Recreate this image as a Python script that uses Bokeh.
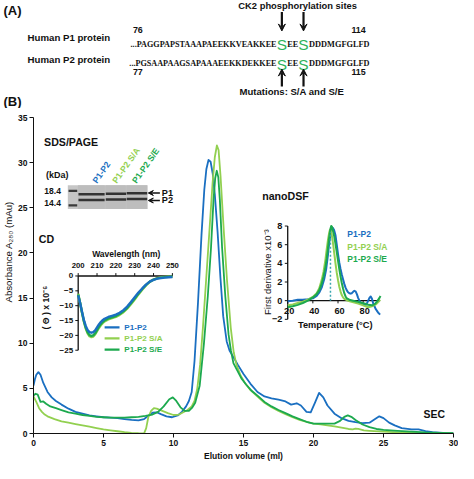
import math
from bokeh.plotting import figure
from bokeh.layouts import column, row
from bokeh.models import Range1d, Arrow, VeeHead, FixedTicker
from bokeh.core.properties import value
from bokeh.embed import file_html
from bokeh.resources import INLINE

# ---------------- SEC (main panel) ----------------
sec_blue_ml = [0.0, 0.1, 0.2, 0.35, 0.5, 0.7, 1.0, 1.3, 1.6, 2.0, 2.5, 3.0, 3.5, 4.0, 4.5, 5.0,
               5.5, 6.0, 6.5, 7.0, 7.5, 7.9, 8.2, 8.5, 8.8, 9.1, 9.5, 9.9, 10.3, 10.6, 10.9, 11.1,
               11.3, 11.5, 11.75, 12.0, 12.2, 12.35, 12.5, 12.65, 12.8, 12.95, 13.15, 13.35, 13.55,
               13.8, 14.0, 14.3, 14.6, 15.0, 15.5, 16.0, 16.5, 17.0, 17.5, 18.0, 18.4, 18.8, 19.1,
               19.5, 19.8, 20.1, 20.4, 20.7, 21.0, 21.5, 22.0, 22.5, 23.0, 23.5, 24.0, 24.4, 24.7,
               25.0, 25.4, 25.8, 26.3, 27.0, 27.5, 28.0, 28.5, 29.0, 29.5, 30.0]
sec_blue_mau = [5.3, 6.0, 6.5, 6.8, 6.5, 5.6, 4.6, 4.0, 3.6, 3.2, 2.75, 2.4, 2.2, 2.0, 1.9, 1.8,
                1.75, 1.7, 1.6, 1.5, 1.45, 1.6, 1.95, 2.3, 2.35, 2.15, 1.9, 1.8, 2.0, 2.4, 3.0, 3.6,
                4.6, 8.0, 14.5, 22.0, 27.0, 29.3, 30.3, 30.1, 28.8, 26.5, 22.3, 17.3, 13.0,
                10.2, 9.2, 8.4, 7.6, 6.6, 5.5, 4.6, 4.1, 3.9, 3.75, 3.55, 3.2, 3.35, 3.1,
                2.4, 2.35, 3.4, 4.5, 4.0, 3.1, 2.2, 1.7, 1.4, 1.25, 1.15, 1.2, 1.6, 1.9,
                1.7, 1.2, 0.9, 0.6, 0.45, 0.45, 0.25, 0.15, 0.1, 0.05, 0.05]

sec_sa_ml = [0.0, 0.2, 0.4, 0.6, 0.8, 1.0, 1.5, 2.0, 2.5, 3.0, 3.5, 4.0, 4.5, 5.0, 5.5, 6.0, 6.5,
             7.0, 7.5, 7.9, 8.05, 8.2, 8.4, 8.6, 8.8, 9.2, 9.6, 10.0, 10.4, 10.7, 11.0, 11.3, 11.5,
             11.7, 11.9, 12.1, 12.33, 12.56, 12.79, 12.95, 13.1, 13.22, 13.36, 13.59, 13.82, 14.09,
             14.3, 14.5, 14.8, 15.1, 15.5, 16.0, 16.5, 17.0, 17.5, 18.0, 18.5, 19.0, 19.5, 20.0,
             20.5, 21.0, 21.5, 22.0, 22.5, 22.8, 23.0, 23.2, 23.6, 24.0, 25.0, 26.0, 27.0, 28.0, 30.0]
sec_sa_mau = [4.1, 3.5, 2.8, 2.4, 2.1, 1.9, 1.6, 1.35, 1.2, 1.05, 0.9, 0.75, 0.6, 0.45, 0.35, 0.25, 0.15,
              0.08, 0.03, 0.02, 0.6, 1.8, 2.5, 2.8, 2.75, 2.5, 2.25, 2.05, 2.1, 2.35, 2.6, 3.0, 3.6,
              5.0, 7.6, 11.7, 17.0, 22.3, 27.7, 30.6, 31.9, 31.4, 28.5, 22.5, 17.0, 11.7,
              9.0, 7.6, 6.4, 5.6, 4.8, 4.1, 3.4, 2.9, 2.5, 2.15, 1.8, 1.5, 1.3, 1.1,
              1.0, 0.9, 0.8, 0.65, 0.5, 0.45, 0.55, 0.5, 0.35, 0.3, 0.2, 0.12, 0.08, 0.05, 0.02]

sec_se_ml = [0.0, 0.15, 0.3, 0.5, 0.7, 0.9, 1.2, 1.6, 2.0, 2.5, 3.0, 3.5, 4.0, 4.5, 5.0, 5.5, 6.0,
             6.5, 7.0, 7.5, 8.0, 8.5, 8.9, 9.3, 9.7, 9.95, 10.2, 10.5, 10.8, 11.1, 11.35, 11.55,
             11.87, 12.17, 12.45, 12.68, 12.86, 12.98, 13.09, 13.2, 13.31, 13.47, 13.7, 13.93,
             14.1, 14.28, 14.55, 14.85, 15.2, 15.6, 16.0, 16.5, 17.0, 17.5, 18.0, 18.5, 19.0,
             19.5, 20.0, 20.5, 21.0, 21.5, 21.9, 22.2, 22.45, 22.7, 23.0, 23.5, 24.0, 24.5, 25.0,
             26.0, 27.0, 28.0, 29.0, 30.0]
sec_se_mau = [4.2, 4.4, 4.3, 3.5, 3.55, 3.3, 3.0, 2.8, 2.6, 2.35, 2.2, 2.05, 1.95, 1.85, 1.8, 1.75, 1.75,
              1.75, 1.8, 1.85, 1.95, 2.1, 2.4, 3.0, 3.8, 4.0, 3.6, 2.9, 2.5, 2.5, 2.9, 3.4,
              5.3, 9.9, 15.2, 20.6, 25.9, 28.3, 29.1, 28.4, 25.9, 20.6, 15.2, 11.0,
              9.2, 7.8, 7.0, 6.1, 5.4, 4.7, 4.2, 3.5, 3.0, 2.6, 2.25, 1.9, 1.6,
              1.3, 1.1, 1.1, 1.1, 1.1, 1.4, 1.85, 2.0, 1.85, 1.5, 1.0, 0.7, 0.5, 0.4,
              0.3, 0.2, 0.12, 0.08, 0.05]

# ---------------- CD inset ----------------
cd_nm = [200, 201, 202, 203, 204, 205, 206, 207, 208, 209, 210, 211, 212, 213, 214, 216, 218,
         220, 222, 224, 226, 228, 230, 232, 234, 236, 238, 240, 242, 244, 246, 248, 250]
cd_blue = [-6.5, -9.0, -12.0, -14.8, -16.8, -18.2, -18.9, -19.1, -18.9, -18.3, -17.3, -16.3, -15.5,
           -14.9, -14.4, -13.8, -13.4, -13.0, -12.4, -11.5, -10.3, -8.8, -7.2, -5.6, -4.2, -2.9,
           -1.9, -1.3, -0.9, -0.7, -0.55, -0.45, -0.35]
cd_sa = [-6.0, -9.0, -12.3, -15.3, -17.7, -19.3, -20.3, -20.6, -20.4, -19.7, -18.6, -17.5, -16.6,
         -15.9, -15.3, -14.6, -14.2, -13.8, -13.1, -12.2, -11.0, -9.5, -7.9, -6.2, -4.6, -3.2,
         -2.0, -1.2, -0.7, -0.45, -0.3, -0.25, -0.2]
cd_se = [-6.2, -9.0, -12.2, -15.1, -17.4, -19.0, -19.9, -20.2, -20.0, -19.3, -18.2, -17.1, -16.2,
         -15.5, -15.0, -14.3, -13.9, -13.5, -12.8, -11.9, -10.7, -9.2, -7.6, -5.9, -4.4, -3.0,
         -1.9, -1.2, -0.8, -0.55, -0.4, -0.3, -0.25]

# ---------------- nanoDSF inset ----------------
dsf_blue_t = [20, 24, 28, 32, 36, 40, 43, 45, 47, 49, 50.5, 52, 53, 54, 55, 55.8, 56.8, 58, 59, 60,
              61, 62, 63, 64, 65, 66, 67, 68, 69, 70, 71, 72, 73, 74, 75, 76, 77, 78, 79, 80,
              81, 82, 83, 84, 85, 86, 87, 88, 89, 90, 91, 92, 93.5]
dsf_blue_v = [-0.05, 0.0, 0.1, 0.1, 0.15, 0.25, 0.5, 0.85, 1.4, 2.3, 3.3, 4.9, 6.2, 7.1, 7.65, 7.8, 7.6, 7.0, 6.0, 5.0,
              4.1, 3.4, 2.8, 2.3, 1.8, 1.4, 1.1, 0.9, 0.8, 0.75, 0.8, 0.95, 1.05, 1.0, 0.7, 0.3, 0.0, -0.2, -0.35, -0.4,
              -0.5, -0.45, -0.3, 0.0, 0.3, 0.45, 0.2, -0.3, -0.6, -0.9, -1.1, -1.3, -1.5]
dsf_sa_t = [20, 24, 28, 32, 36, 40, 43, 45, 47, 48.5, 50, 51, 52, 53, 53.6, 54.3, 55, 56, 57, 58,
            59, 60, 61, 62, 63, 64, 65, 67, 70, 73, 76, 80, 84, 87, 90, 92, 93.5]
dsf_sa_v = [-0.5, -0.4, -0.25, -0.1, 0.1, 0.4, 0.8, 1.3, 2.2, 3.1, 4.4, 5.5, 6.5, 7.3, 7.6, 7.5, 7.1, 6.2, 5.1, 4.0,
            3.0, 2.2, 1.5, 1.0, 0.6, 0.35, 0.2, 0.05, -0.1, -0.2, -0.3, -0.5, -0.7, -0.6, -0.4, -0.15, 0.1]
dsf_se_t = [20, 24, 28, 32, 36, 40, 43, 45, 47, 48.5, 50, 51, 52, 53, 54, 54.6, 55.3, 56, 57, 58,
            59, 60, 61, 62, 63, 64, 65, 66, 67, 69, 72, 75, 78, 81, 84, 87, 89, 91, 93, 93.8]
dsf_se_v = [-0.7, -0.6, -0.45, -0.25, 0.0, 0.35, 0.7, 1.1, 1.8, 2.6, 3.6, 4.5, 5.6, 6.8, 7.7, 8.0, 7.9, 7.5, 6.9, 6.1,
            5.2, 4.3, 3.4, 2.6, 1.9, 1.3, 0.8, 0.45, 0.25, 0.1, 0.0, -0.1, -0.2, -0.3, -0.45, -0.5, -0.4, -0.1, 0.3, 0.5]
dsf_tm = 54.0
dsf_tm_top = 7.4

# ---------------- ticks / labels ----------------
series_names = ["P1-P2", "P1-P2 S/A", "P1-P2 S/E"]
sec_xticks = [0, 5, 10, 15, 20, 25, 30]
sec_yticks = [0, 5, 10, 15, 20, 25, 30, 35]
cd_xticks = [200, 210, 220, 230, 240, 250]
cd_yticks = [0, -5, -10, -15, -20, -25]
dsf_xticks = [20, 40, 60, 80]
dsf_yticks = [-2, 0, 2, 4, 6, 8]
gel_marker_labels = ["18.4", "14.4"]
gel_band_labels = ["P1", "P2"]
p1_parts = ["...PAGGPAPSTAAAPAEEKKVEAKKEE", "S", "EE", "S", "DDDMGFGLFD"]
p2_parts = ["...PGSAAPAAGSAPAAAEEKKDEKKEE", "S", "EE", "S", "DDDMGFGLFD"]

# ---------------- style ----------------
SANS = "Liberation Sans"
SERIF = "Liberation Serif"
INK = "#111111"
BLUE = "#1A6FC1"
LGREEN = "#92D050"
GREEN = "#1CA94E"
SGREEN = "#2EB35C"
COLORS = [BLUE, LGREEN, GREEN]
K = 458 / 474           # reference px -> page px
A_H = 108
B_H = 463 - A_H
Y_W = 15


def fs(n):
    return value(f"{n * K:.2f}px")


def add_text(p, x, y, s, size, color=INK, style="bold", align="left", baseline="middle",
             angle=0.0, font=SANS, xr=None, yr=None):
    kw = {}
    if xr:
        kw["x_range_name"] = xr
    if yr:
        kw["y_range_name"] = yr
    p.text(x=[x], y=[y], text=[s], text_font=value(font), text_font_style=style,
           text_font_size=fs(size), text_color=color, text_align=align,
           text_baseline=baseline, angle=angle, **kw)


def arrow(p, x0, y0, x1, y1, size=7, width=2.0, xr="default", yr="default"):
    p.add_layout(Arrow(end=VeeHead(size=size, line_color=INK, fill_color=INK, line_width=1),
                       x_start=x0, y_start=y0, x_end=x1, y_end=y1,
                       line_color=INK, line_width=width,
                       x_range_name=xr, y_range_name=yr))


def blank(width, height, xr, yr):
    p = figure(width=width, height=height, x_range=xr, y_range=yr,
               x_axis_location=None, y_axis_location=None, output_backend="svg",
               toolbar_location=None, min_border=0)
    p.grid.visible = False
    p.outline_line_color = None
    return p


# ================= Panel A =================
pA = blank(458, A_H, Range1d(0, 474), Range1d(A_H / K, 0))

add_text(pA, 3, 10, "(A)", 13.5)
add_text(pA, 307.5, 5.5, "CK2 phosphorylation sites", 9.7, align="center")
site_x = [291.2, 313.6]
for sx in site_x:
    arrow(pA, sx, 12, sx, 31.5, size=7, width=2.2)
    arrow(pA, sx, 89, sx, 71, size=7, width=2.2)
add_text(pA, 137, 30.5, "76", 9.2)
add_text(pA, 378, 30.5, "114", 9.2, align="right")
add_text(pA, 137, 74, "77", 9.2)
add_text(pA, 378, 74, "115", 9.2, align="right")
add_text(pA, 28, 38.5, "Human P1 protein", 10)
add_text(pA, 28, 61.5, "Human P2 protein", 10)


def sequence(parts, base):
    pre, s1, mid, s2, post = parts
    add_text(pA, site_x[0] - 5.5, base, pre, 8.45, font=SERIF, align="right", baseline="alphabetic")
    add_text(pA, site_x[0], base + 0.5, s1, 16, color=SGREEN, style="normal", align="center", baseline="alphabetic")
    add_text(pA, (site_x[0] + site_x[1]) / 2, base, mid, 8.6, font=SERIF, align="center", baseline="alphabetic")
    add_text(pA, site_x[1], base + 0.5, s2, 16, color=SGREEN, style="normal", align="center", baseline="alphabetic")
    add_text(pA, site_x[1] + 5.8, base, post, 8.6, font=SERIF, align="left", baseline="alphabetic")


sequence(p1_parts, 45.3)
sequence(p2_parts, 65.5)
add_text(pA, 301.5, 94.5, "Mutations: S/A and S/E", 9.9, align="center")
add_text(pA, 3, 104.5, "(B)", 13.5)

# ================= y-axis title strip =================
pY = blank(Y_W, B_H, Range1d(0, Y_W / K), Range1d((A_H + B_H) / K, A_H / K))
add_text(pY, 8.6, 268, "Absorbance A₂₈₀ (mAu)", 10, style="normal", align="center",
         angle=math.pi / 2)

# ================= Panel B =================
FL, FR, FT, FB = 32, 469, 121, 450   # frame edges in reference px


def lin_range(d0, p0, d1, p1, lo, hi):
    s = (d1 - d0) / (p1 - p0)
    return Range1d(start=d0 + (lo - p0) * s, end=d0 + (hi - p0) * s)


pB = figure(width=458 - Y_W, height=B_H, x_range=Range1d(0, 30), y_range=Range1d(0, 35),
            output_backend="svg", toolbar_location=None,
            min_border_left=round(FL * K) - Y_W, min_border_right=458 - round(FR * K),
            min_border_top=round(FT * K - A_H), min_border_bottom=B_H - round(FB * K - A_H))
pB.grid.visible = False
pB.outline_line_color = None
pB.extra_x_ranges = {"px": Range1d(FL, FR),
                     "cd": lin_range(200, 78.5, 250, 176.5, FL, FR),
                     "dsf": lin_range(20, 296.5, 80, 375.0, FL, FR)}
pB.extra_y_ranges = {"px": Range1d(FB, FT),
                     "cd": lin_range(0, 286.0, -25, 363.3, FB, FT),
                     "dsf": lin_range(0, 311.7, 8, 234.0, FB, FT)}

for ax in (pB.xaxis[0], pB.yaxis[0]):
    ax.axis_line_color = INK
    ax.major_tick_line_color = INK
    ax.major_tick_out = 4
    ax.major_tick_in = 0
    ax.minor_tick_line_color = None
    ax.major_label_text_font = SANS
    ax.major_label_text_font_style = "bold"
    ax.major_label_text_font_size = f"{8.8 * K:.2f}px"
    ax.major_label_text_color = INK
    ax.major_label_standoff = 2
    ax.axis_label_text_font = SANS
    ax.axis_label_text_color = INK
    ax.axis_label_standoff = 2
pB.xaxis.ticker = FixedTicker(ticks=sec_xticks)
pB.yaxis.ticker = FixedTicker(ticks=sec_yticks)
pB.xaxis.axis_label = "Elution volume (ml)"
pB.xaxis.axis_label_text_font_style = "bold"
pB.xaxis.axis_label_text_font_size = f"{8.8 * K:.2f}px"

# SEC curves
for xs, ys, c in ((sec_blue_ml, sec_blue_mau, BLUE), (sec_sa_ml, sec_sa_mau, LGREEN), (sec_se_ml, sec_se_mau, GREEN)):
    pB.line(xs, ys, line_color=c, line_width=1.8, line_join="round")
add_text(pB, 449, 430, "SEC", 10.8, align="center", xr="px", yr="px")

# ---- SDS/PAGE gel ----
add_text(pB, 43, 146.7, "SDS/PAGE", 11, xr="px", yr="px")
add_text(pB, 45, 181, "(kDa)", 9.3, xr="px", yr="px")
add_text(pB, 60.5, 197.3, gel_marker_labels[0], 8.8, align="right", xr="px", yr="px")
add_text(pB, 60.5, 210.5, gel_marker_labels[1], 8.8, align="right", xr="px", yr="px")
pB.quad(left=[67.7], right=[150.5], top=[191.5], bottom=[216.2], fill_color="#c6c6c6",
        line_color=None, x_range_name="px", y_range_name="px")
pB.quad(left=[78.2, 106.8, 128.6], right=[106.2, 128.0, 150.5], top=[191.5] * 3, bottom=[216.2] * 3,
        fill_color="#bdbdbd", line_color=None, x_range_name="px", y_range_name="px")
# ladder bands
pB.quad(left=[68.5, 68.5], right=[77.5, 77.5], top=[196.2, 211.2], bottom=[198.6, 213.6],
        fill_color="#3a3a3a", line_color=None, x_range_name="px", y_range_name="px")
# sample bands (P1 upper, P2 lower) for three lanes
lane_l = [78.8, 107.2, 129.0]
lane_r = [106.0, 128.4, 150.3]
p1_mid = [201.0, 200.5, 199.9]
p2_mid = [206.9, 206.5, 205.9]
pB.quad(left=lane_l + lane_l, right=lane_r + lane_r,
        top=[m - 1.3 for m in p1_mid] + [m - 1.3 for m in p2_mid],
        bottom=[m + 1.3 for m in p1_mid] + [m + 1.3 for m in p2_mid],
        fill_color="#333333", line_color=None, x_range_name="px", y_range_name="px")
lane_label_x = [95.5, 116.0, 136.5]
for lx, name, c in zip(lane_label_x, series_names, COLORS):
    add_text(pB, lx, 188.5, name, 9.0, color=c, angle=math.radians(55), baseline="alphabetic",
             xr="px", yr="px")
for yy, lab in zip([199.6, 207.4], gel_band_labels):
    arrow(pB, 163.5, yy, 151.5, yy, size=5, width=1.4, xr="px", yr="px")
    add_text(pB, 165.5, yy, lab, 9.5, xr="px", yr="px")

# ---- CD inset ----
add_text(pB, 37.5, 248, "CD", 11, xr="px", yr="px")
add_text(pB, 128.5, 262.7, "Wavelength (nm)", 8.8, align="center", xr="px", yr="px")
pB.segment(x0=[cd_xticks[0]], y0=[0], x1=[cd_xticks[-1]], y1=[0], line_color=INK, line_width=1.3,
           x_range_name="cd", y_range_name="cd")
pB.segment(x0=[cd_xticks[0]], y0=[cd_yticks[0]], x1=[cd_xticks[0]], y1=[cd_yticks[-1]], line_color=INK,
           line_width=1.3, x_range_name="cd", y_range_name="cd")
pB.segment(x0=cd_xticks, y0=[286.0] * len(cd_xticks), x1=cd_xticks, y1=[283.0] * len(cd_xticks),
           line_color=INK, line_width=1, x_range_name="cd", y_range_name="px")
pB.segment(x0=[78.5] * len(cd_yticks), y0=cd_yticks, x1=[75.5] * len(cd_yticks), y1=cd_yticks,
           line_color=INK, line_width=1, x_range_name="px", y_range_name="cd")
for t in cd_xticks:
    add_text(pB, t, 275.3, str(t), 8.0, align="center", xr="cd", yr="px")
for t in cd_yticks:
    add_text(pB, 73.2, t, str(t).replace("-", "\u2212"), 8.3, align="right", xr="px", yr="cd")
add_text(pB, 44.5, 319, "( \u0398 ) x 10\u207b\u2076", 9.0, align="center", angle=math.pi / 2,
         xr="px", yr="px")
for ys, c in ((cd_sa, LGREEN), (cd_se, GREEN), (cd_blue, BLUE)):
    pB.line(cd_nm, ys, line_color=c, line_width=2.4, line_join="round", x_range_name="cd", y_range_name="cd")
for yy, name, c in zip([339.5, 351.0, 362.7], series_names, COLORS):
    pB.segment(x0=[106.0], y0=[yy], x1=[121.5], y1=[yy], line_color=c, line_width=2.4,
               x_range_name="px", y_range_name="px")
    add_text(pB, 126.5, yy, name, 8.4, color=c, xr="px", yr="px")

# ---- nanoDSF inset ----
add_text(pB, 318.5, 203, "nanoDSF", 11, align="right", xr="px", yr="px")
pB.segment(x0=[dsf_xticks[0]], y0=[dsf_yticks[0]], x1=[dsf_xticks[0]], y1=[dsf_yticks[-1]], line_color=INK,
           line_width=1.3, x_range_name="dsf", y_range_name="dsf")
pB.segment(x0=[dsf_xticks[0]], y0=[0], x1=[dsf_blue_t[-1]], y1=[0], line_color=INK, line_width=1.3,
           x_range_name="dsf", y_range_name="dsf")
pB.segment(x0=[296.5] * len(dsf_yticks), y0=dsf_yticks, x1=[293.5] * len(dsf_yticks), y1=dsf_yticks,
           line_color=INK, line_width=1, x_range_name="px", y_range_name="dsf")
pB.segment(x0=dsf_xticks, y0=[311.7] * len(dsf_xticks), x1=dsf_xticks, y1=[314.5] * len(dsf_xticks),
           line_color=INK, line_width=1, x_range_name="dsf", y_range_name="px")
for t in dsf_yticks:
    add_text(pB, 291.0, t, str(t).replace("-", "\u2212"), 9.5, align="right", xr="px", yr="dsf")
for t in dsf_xticks:
    add_text(pB, t + 1.2, 322.0, str(t), 9.5, align="center", xr="dsf", yr="px")
add_text(pB, 346, 336.8, "Temperature (\u00b0C)", 9.6, align="center", xr="px", yr="px")
add_text(pB, 275, 282, "First derivative x10\u207b\u00b3", 9.8, style="normal", align="center",
         angle=math.pi / 2, xr="px", yr="px")
for xs, ys, c in ((dsf_blue_t, dsf_blue_v, BLUE), (dsf_sa_t, dsf_sa_v, LGREEN), (dsf_se_t, dsf_se_v, GREEN)):
    pB.line(xs, ys, line_color=c, line_width=2.0, line_join="round", x_range_name="dsf", y_range_name="dsf")
pB.segment(x0=[dsf_tm], y0=[0], x1=[dsf_tm], y1=[dsf_tm_top], line_color="#3AA6B0", line_width=1.5,
           line_dash="2 2", x_range_name="dsf", y_range_name="dsf")
for yy, name, c in zip([242.5, 255.5, 268.5], series_names, COLORS):
    add_text(pB, 358.5, yy, name, 8.8, color=c, xr="px", yr="px")

layout = column(pA, row(pY, pB))
open("out.html", "w").write(file_html(layout, INLINE, title="CK2 P1/P2"))
